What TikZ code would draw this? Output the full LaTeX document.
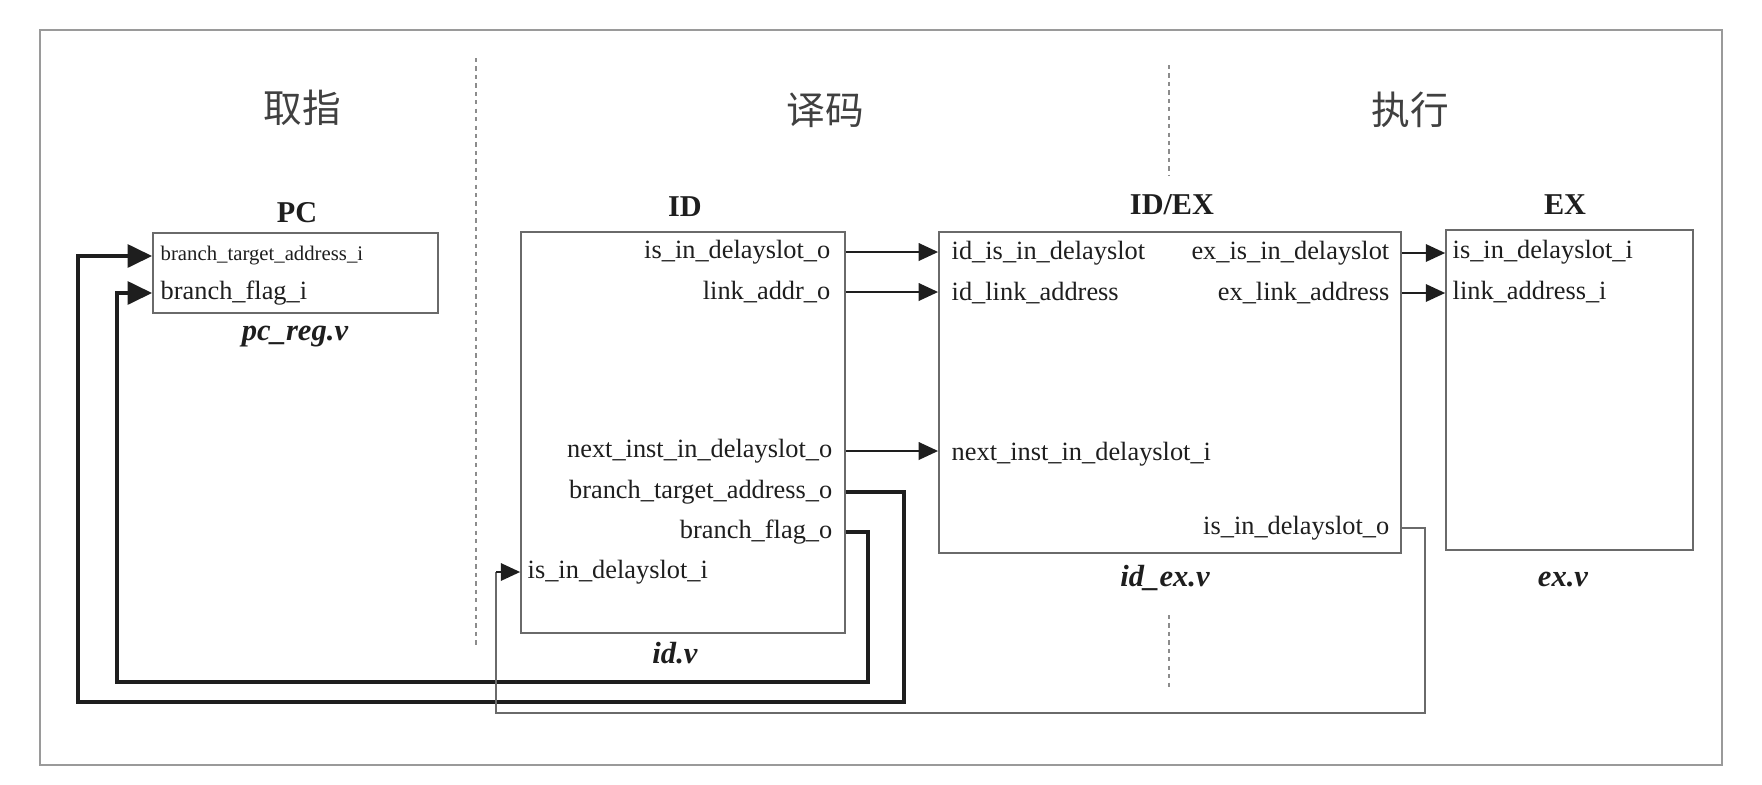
\documentclass[tikz,border=0pt]{standalone}
\usepackage{fontspec}
\setmainfont{Liberation Serif}
\newfontfamily\cjk{Noto Sans CJK SC}
\usetikzlibrary{arrows.meta}
\definecolor{boxgray}{HTML}{6A6A6A}
\definecolor{framegray}{HTML}{9A9A9A}
\definecolor{dashgray}{HTML}{8C8C8C}
\definecolor{txt}{HTML}{1E1E1E}
\begin{document}
\begin{tikzpicture}[x=0.01cm,y=-0.01cm,
  box/.style={draw=boxgray, line width=0.45pt, rectangle, inner sep=0pt},
  port/.style={inner sep=0pt, text=txt, font=\fontsize{7.5}{9}\selectfont},
  smallport/.style={inner sep=0pt, text=txt, font=\fontsize{5.9}{7}\selectfont},
  title/.style={inner sep=0pt, text=txt, font=\fontsize{8.6}{10}\selectfont\bfseries},
  file/.style={inner sep=0pt, text=txt, font=\fontsize{8.7}{10}\selectfont\bfseries\itshape},
  stage/.style={inner sep=0pt, text=txt!85!white, font=\fontsize{11}{13}\selectfont\cjk},
  thinarrow/.style={draw=txt, line width=0.45pt, -{Triangle[length=5.5pt,width=5pt]}},
  thickarrow/.style={draw=txt, line width=1.1pt, -{Triangle[length=7pt,width=6.5pt]}},
  thinline/.style={draw=boxgray, line width=0.45pt},
  divider/.style={draw=dashgray, line width=0.45pt, dash pattern=on 1.2pt off 1.2pt}
]
\useasboundingbox (0,0) rectangle (1762,784);
% outer frame
\draw[draw=framegray, line width=0.45pt] (40,30) rectangle (1722,765);

% stage dividers
\draw[divider] (476,58) -- (476,648);
\draw[divider] (1169,65) -- (1169,175);
\draw[divider] (1169,615) -- (1169,688);

% stage headings
\node[stage] (s1) at (302,108) {取指};
\node[stage] (s2) at (825,110) {译码};
\node[stage] (s3) at (1410,110) {执行};

% boxes
\node[box, minimum width=2.85cm, minimum height=0.80cm] (pc) at (295.5,273) {};
\node[box, minimum width=3.24cm, minimum height=4.01cm] (id) at (683,432.5) {};
\node[box, minimum width=4.62cm, minimum height=3.21cm] (idex) at (1170,392.5) {};
\node[box, minimum width=2.47cm, minimum height=3.20cm] (ex) at (1569.5,390) {};

% titles
\node[title] (tpc) at (297,213) {PC};
\node[title] (tid) at (685,207) {ID};
\node[title] (tidex) at (1172,205) {ID/EX};
\node[title] (tex) at (1565,205) {EX};

% file names
\node[file] (fpc) at (295,337) {pc\_reg.v};
\node[file] (fid) at (675,653) {id.v};
\node[file] (fidex) at (1165,578) {id\_ex.v};
\node[file] (fex) at (1563,579) {ex.v};

% PC ports
\node[smallport, anchor=west] (pcbta) at (160,256) {branch\_target\_address\_i};
\node[port, anchor=west] (pcbf) at (160,293) {branch\_flag\_i};

% ID ports
\node[port, anchor=east] (idiso) at (831,252) {is\_in\_delayslot\_o};
\node[port, anchor=east] (idlink) at (831,292) {link\_addr\_o};
\node[port, anchor=east] (idnext) at (833,451) {next\_inst\_in\_delayslot\_o};
\node[port, anchor=east] (idbta) at (833,492) {branch\_target\_address\_o};
\node[port, anchor=east] (idbf) at (833,532) {branch\_flag\_o};
\node[port, anchor=west] (idisi) at (527,572) {is\_in\_delayslot\_i};

% ID/EX ports
\node[port, anchor=west] (xidis) at (951,253) {id\_is\_in\_delayslot};
\node[port, anchor=west] (xidlink) at (951,293) {id\_link\_address};
\node[port, anchor=east] (xexis) at (1390,253) {ex\_is\_in\_delayslot};
\node[port, anchor=east] (xexlink) at (1390,293) {ex\_link\_address};
\node[port, anchor=west] (xnext) at (951,454) {next\_inst\_in\_delayslot\_i};
\node[port, anchor=east] (xiso) at (1390,528) {is\_in\_delayslot\_o};

% EX ports
\node[port, anchor=west] (exis) at (1452,252) {is\_in\_delayslot\_i};
\node[port, anchor=west] (exlink) at (1452,292) {link\_address\_i};

% ID -> ID/EX
\draw[thinarrow] (id.east |- idiso) -- (idex.west |- idiso);
\draw[thinarrow] (id.east |- idlink) -- (idex.west |- idlink);
\draw[thinarrow] (id.east |- idnext) -- (idex.west |- idnext);

% ID/EX -> EX
\draw[thinarrow] (idex.east |- xexis) -- (ex.west |- xexis);
\draw[thinarrow] (idex.east |- xexlink) -- (ex.west |- xexlink);

% branch loops back to PC
\coordinate (btacorner) at (904,702);
\coordinate (btaleft) at (78,702);
\coordinate (bfcorner) at (868,682);
\coordinate (bfleft) at (117,682);
\draw[thickarrow] (id.east |- idbta) -| (btacorner) -- (btaleft) -- (btaleft |- pcbta) -- (pc.west |- pcbta);
\draw[thickarrow] (id.east |- idbf) -| (bfcorner) -- (bfleft) -- (bfleft |- pcbf) -- (pc.west |- pcbf);

% delay slot feedback
\coordinate (dscorner) at (1425,713);
\coordinate (dsleft) at (496,713);
\draw[thinline] (idex.east |- xiso) -| (dscorner) -- (dsleft) -- (dsleft |- idisi);
\draw[thinarrow] (dsleft |- idisi) -- (id.west |- idisi);
\end{tikzpicture}
\end{document}
